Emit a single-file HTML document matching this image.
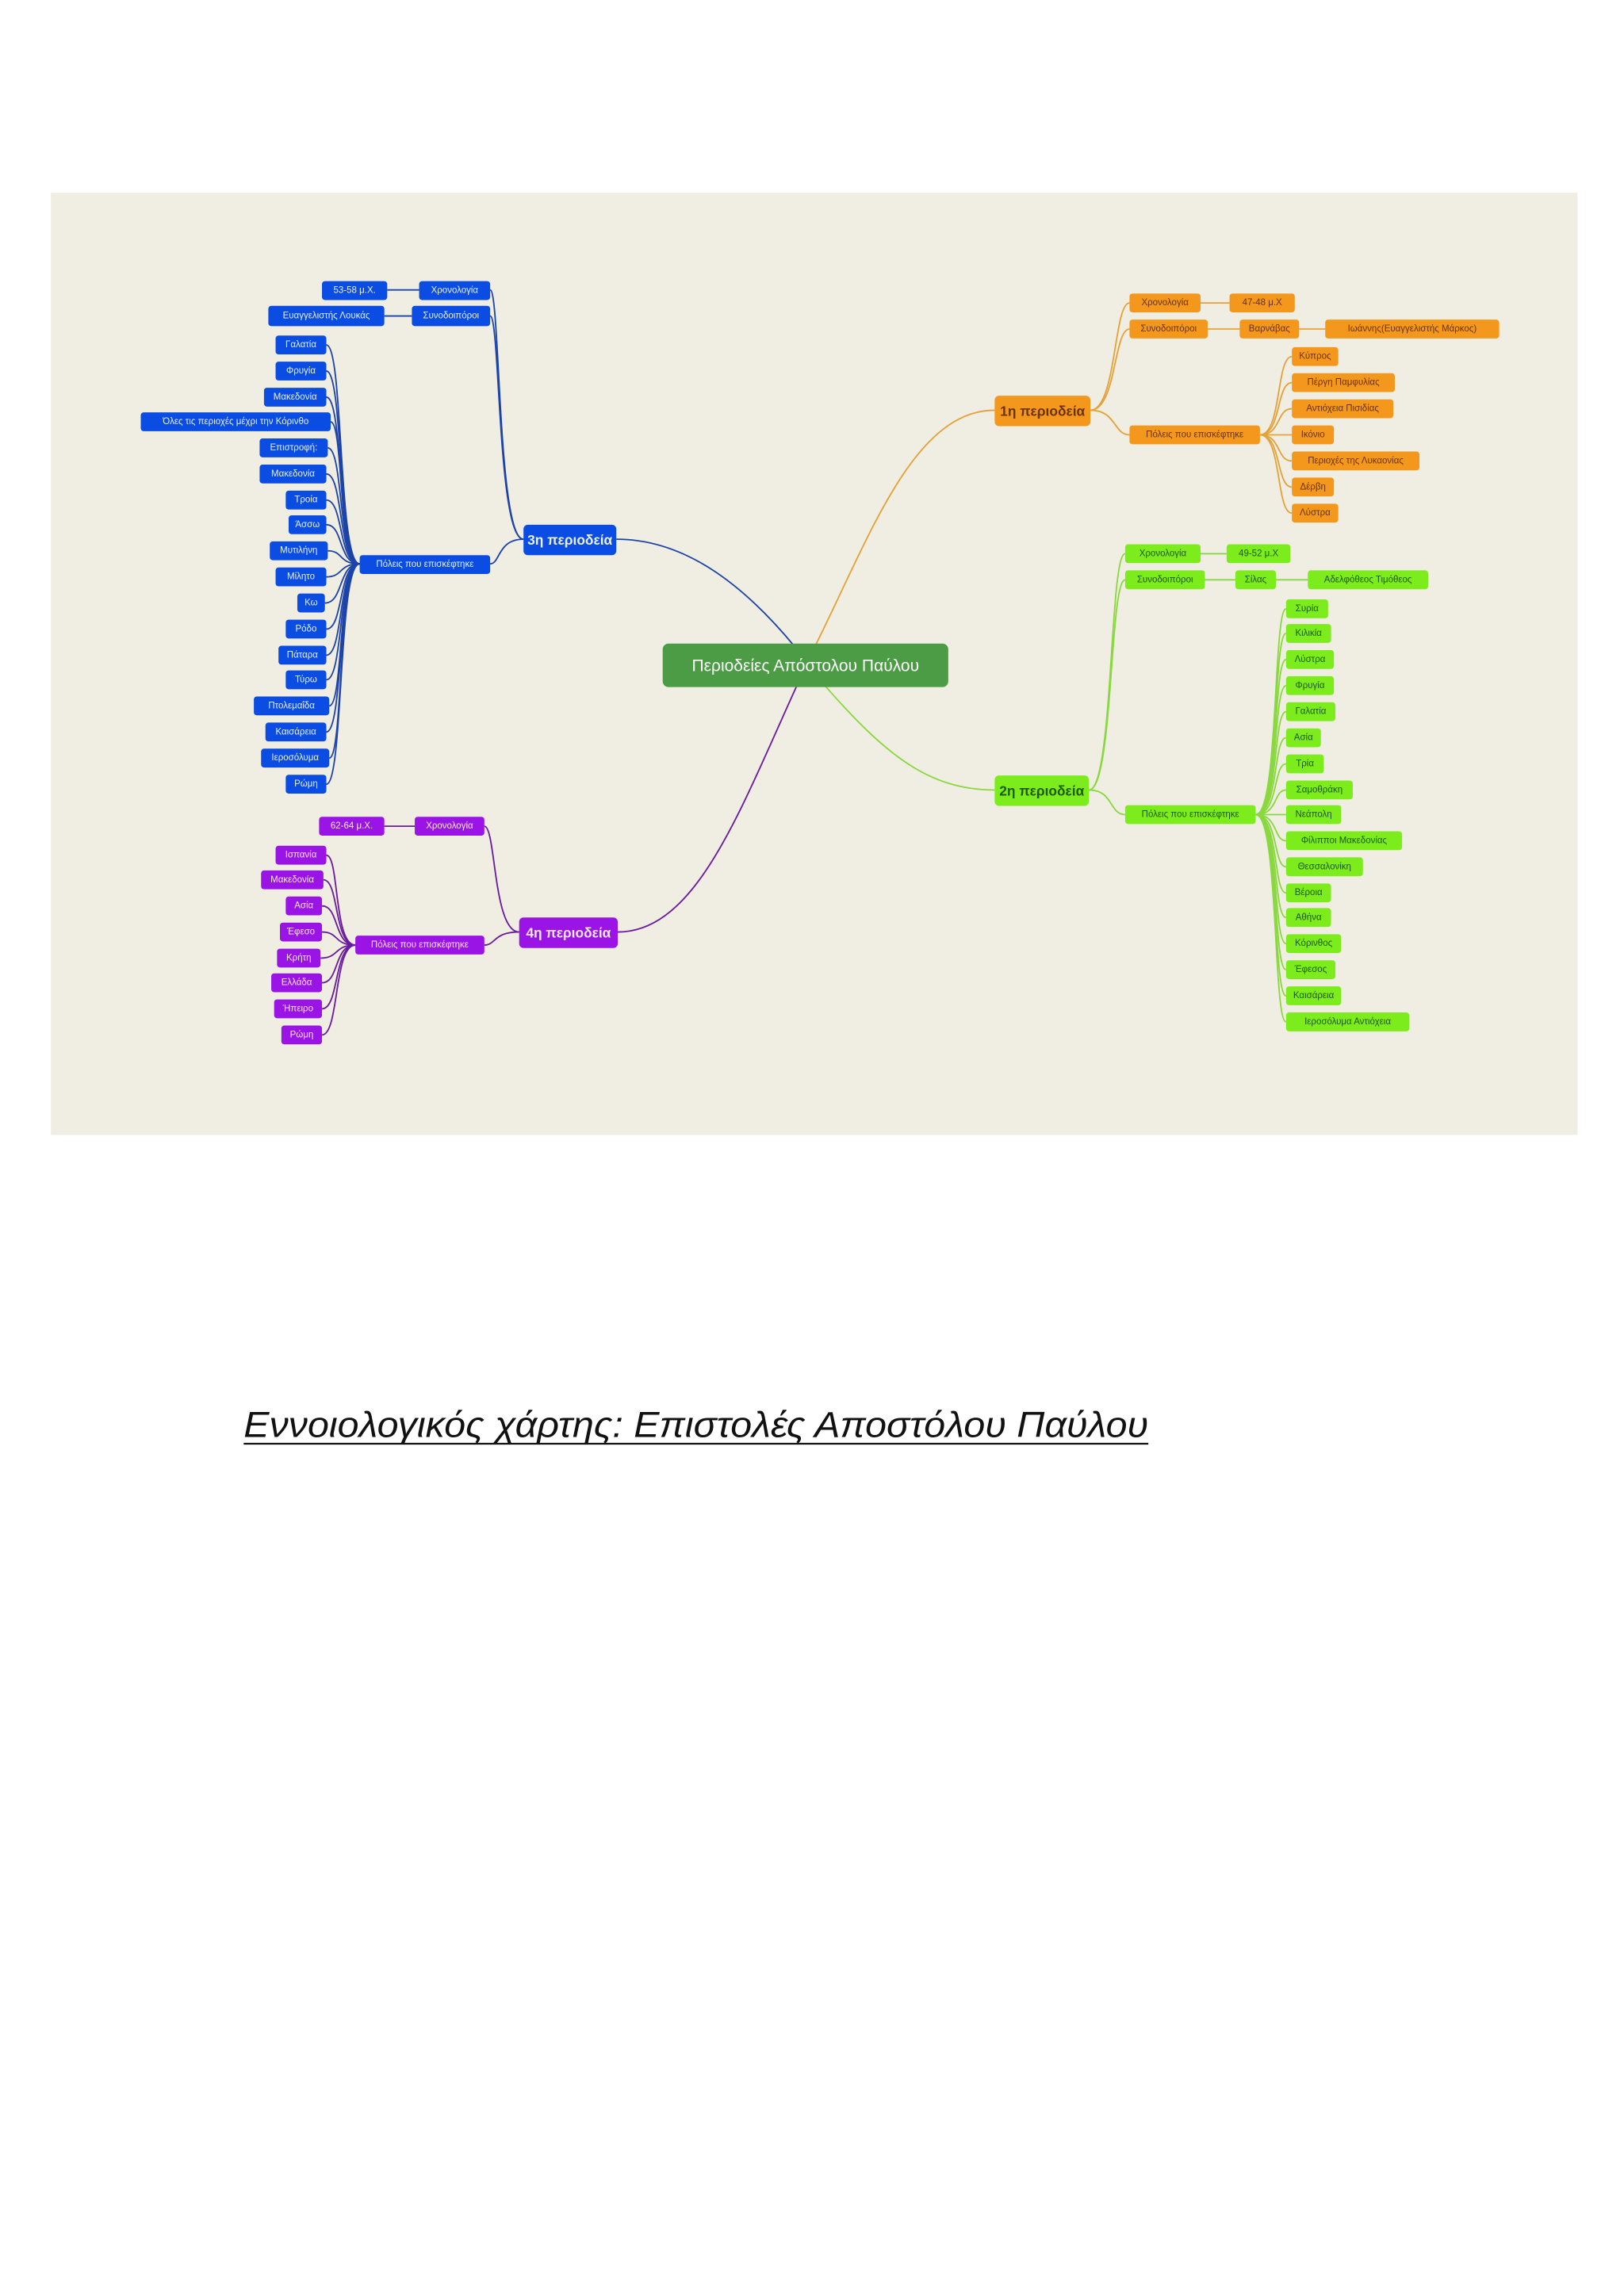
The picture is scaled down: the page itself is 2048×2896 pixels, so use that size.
<!DOCTYPE html>
<html><head><meta charset="utf-8"><style>
html,body{margin:0;padding:0;background:#fff;}
svg{display:block;}
text{font-family:"Liberation Sans","DejaVu Sans",sans-serif;dominant-baseline:central;}
.b rect{fill:#0b4de2;} .b text{fill:#e8f0ff;font-size:6.3px;}
.o rect{fill:#f4981d;} .o text{fill:#6a3200;font-size:6.3px;}
.g rect{fill:#7cec1c;} .g text{fill:#1d5a00;font-size:6.3px;}
.p rect{fill:#9a14e6;} .p text{fill:#fbe6ff;font-size:6.3px;}
.big text{font-size:9.5px;font-weight:bold;}
.lb{stroke:#1c43a8;fill:none;stroke-width:1;}
.lo{stroke:#e4a23a;fill:none;stroke-width:1;}
.lg{stroke:#8ad840;fill:none;stroke-width:1;}
.lp{stroke:#6b1c9e;fill:none;stroke-width:1;}
</style></head><body>
<svg width="2048" height="2896" viewBox="0 0 1120 1584" xmlns="http://www.w3.org/2000/svg">
<rect x="0" y="0" width="1120" height="1584" fill="#fff"/>
<rect x="35" y="133" width="1053" height="650" fill="#f0eee2"/>

<!-- main connectors -->
<path class="lb" stroke-width="1.6" d="M548,446 C510,400 470,372 425,372"/>
<path class="lo" stroke-width="1.6" d="M562,446 C600,370 630,283 686,283"/>
<path class="lg" stroke-width="1.6" d="M568,472 C610,520 640,545 686,545"/>
<path class="lp" stroke-width="1.6" d="M550,472 C510,560 480,643 426,643"/>

<!-- BLUE connectors -->
<path class="lb" d="M361,372 C343,372 345,200 338,200"/>
<path class="lb" d="M361,372 C343,372 345,218 338,218"/>
<path class="lb" d="M361,372 C343,372 345,389 338,389"/>
<path class="lb" d="M267,200 L289,200 M265,218 L284,218"/>
<g class="lb">
<path d="M248,389 C233,389 237,238 225,238"/><path d="M248,389 C233,389 237,256 225,256"/>
<path d="M248,389 C233,389 237,274 225,274"/><path d="M248,389 C233,389 237,291 228,291"/>
<path d="M248,389 C233,389 237,309 226,309"/><path d="M248,389 C233,389 237,327 225,327"/>
<path d="M248,389 C233,389 237,345 225,345"/><path d="M248,389 C233,389 237,362 225,362"/>
<path d="M248,389 C233,389 237,380 226,380"/><path d="M248,389 C233,389 237,398 225,398"/>
<path d="M248,389 C233,389 237,416 224,416"/><path d="M248,389 C233,389 237,434 225,434"/>
<path d="M248,389 C233,389 237,452 225,452"/><path d="M248,389 C233,389 237,469 225,469"/>
<path d="M248,389 C233,389 237,487 227,487"/><path d="M248,389 C233,389 237,505 225,505"/>
<path d="M248,389 C233,389 237,523 227,523"/><path d="M248,389 C233,389 237,541 225,541"/>
</g>

<!-- ORANGE connectors -->
<path class="lo" d="M752,283 C770,283 768,209 779,209"/>
<path class="lo" d="M752,283 C770,283 768,227 779,227"/>
<path class="lo" d="M752,283 C770,283 768,300 779,300"/>
<path class="lo" d="M828,209 L848,209 M833,227 L855,227 M896,227 L914,227"/>
<g class="lo">
<path d="M869,300 C884,300 880,246 891,246"/><path d="M869,300 C884,300 880,264 891,264"/>
<path d="M869,300 C884,300 880,282 891,282"/><path d="M869,300 L891,300"/>
<path d="M869,300 C884,300 880,318 891,318"/><path d="M869,300 C884,300 880,336 891,336"/>
<path d="M869,300 C884,300 880,354 891,354"/>
</g>

<!-- GREEN connectors -->
<path class="lg" d="M751,545 C768,545 765,382 776,382"/>
<path class="lg" d="M751,545 C768,545 765,400 776,400"/>
<path class="lg" d="M751,545 C768,545 765,562 776,562"/>
<path class="lg" d="M828,382 L846,382 M831,400 L852,400 M880,400 L902,400"/>
<g class="lg">
<path d="M866,562 C882,562 878,420 887,420"/><path d="M866,562 C882,562 878,437 887,437"/>
<path d="M866,562 C882,562 878,455 887,455"/><path d="M866,562 C882,562 878,473 887,473"/>
<path d="M866,562 C882,562 878,491 887,491"/><path d="M866,562 C882,562 878,509 887,509"/>
<path d="M866,562 C882,562 878,527 887,527"/><path d="M866,562 C882,562 878,545 887,545"/>
<path d="M866,562 L887,562"/><path d="M866,562 C882,562 878,580 887,580"/>
<path d="M866,562 C882,562 878,598 887,598"/><path d="M866,562 C882,562 878,616 887,616"/>
<path d="M866,562 C882,562 878,633 887,633"/><path d="M866,562 C882,562 878,651 887,651"/>
<path d="M866,562 C882,562 878,669 887,669"/><path d="M866,562 C882,562 878,687 887,687"/>
<path d="M866,562 C882,562 878,705 887,705"/>
</g>

<!-- PURPLE connectors -->
<path class="lp" d="M358,643 C340,643 342,570 334,570"/>
<path class="lp" d="M358,643 C340,643 342,652 334,652"/>
<path class="lp" d="M265,570 L286,570"/>
<g class="lp">
<path d="M245,652 C230,652 234,590 225,590"/><path d="M245,652 C230,652 234,607 223,607"/>
<path d="M245,652 C230,652 234,625 222,625"/><path d="M245,652 C230,652 234,643 222,643"/>
<path d="M245,652 C230,652 234,661 221,661"/><path d="M245,652 C230,652 234,678 222,678"/>
<path d="M245,652 C230,652 234,696 222,696"/><path d="M245,652 C230,652 234,714 222,714"/>
</g>

<!-- center -->
<rect x="457" y="444" width="197" height="30" rx="4" fill="#4c9c46"/>
<text x="555.5" y="459.5" text-anchor="middle" fill="#fff" font-size="11.5">Περιοδείες Απόστολου Παύλου</text>

<!-- BLUE nodes -->
<g class="b">
<g class="big"><rect x="361" y="362" width="64" height="21" rx="3"/><text x="393" y="372.5" text-anchor="middle">3η περιοδεία</text></g>
<rect x="222" y="194" width="45" height="13" rx="2"/><text x="244.5" y="200.5" text-anchor="middle">53-58 μ.Χ.</text>
<rect x="289" y="194" width="49" height="13" rx="2"/><text x="313.5" y="200.5" text-anchor="middle">Χρονολογία</text>
<rect x="185" y="211" width="80" height="14" rx="2"/><text x="225" y="218" text-anchor="middle">Ευαγγελιστής Λουκάς</text>
<rect x="284" y="211" width="54" height="14" rx="2"/><text x="311" y="218" text-anchor="middle">Συνοδοιπόροι</text>
<rect x="248" y="383" width="90" height="13" rx="2"/><text x="293" y="389.5" text-anchor="middle">Πόλεις που επισκέφτηκε</text>
<rect x="190" y="231.5" width="35" height="13" rx="2"/><text x="207.5" y="238" text-anchor="middle">Γαλατία</text>
<rect x="190" y="249.5" width="35" height="13" rx="2"/><text x="207.5" y="256" text-anchor="middle">Φρυγία</text>
<rect x="182" y="267.5" width="43" height="13" rx="2"/><text x="203.5" y="274" text-anchor="middle">Μακεδονία</text>
<rect x="97" y="284.5" width="131" height="13" rx="2"/><text x="162.5" y="291" text-anchor="middle">Όλες τις περιοχές μέχρι την Κόρινθο</text>
<rect x="179" y="302.5" width="47" height="13" rx="2"/><text x="202.5" y="309" text-anchor="middle">Επιστροφή:</text>
<rect x="179" y="320.5" width="46" height="13" rx="2"/><text x="202" y="327" text-anchor="middle">Μακεδονία</text>
<rect x="197" y="338.5" width="28" height="13" rx="2"/><text x="211" y="345" text-anchor="middle">Τροία</text>
<rect x="199" y="355.5" width="26" height="13" rx="2"/><text x="212" y="362" text-anchor="middle">Άσσω</text>
<rect x="186" y="373.5" width="40" height="13" rx="2"/><text x="206" y="380" text-anchor="middle">Μυτιλήνη</text>
<rect x="190" y="391.5" width="35" height="13" rx="2"/><text x="207.5" y="398" text-anchor="middle">Μίλητο</text>
<rect x="205" y="409.5" width="19" height="13" rx="2"/><text x="214.5" y="416" text-anchor="middle">Κω</text>
<rect x="197" y="427.5" width="28" height="13" rx="2"/><text x="211" y="434" text-anchor="middle">Ρόδο</text>
<rect x="192" y="445.5" width="33" height="13" rx="2"/><text x="208.5" y="452" text-anchor="middle">Πάταρα</text>
<rect x="197" y="462.5" width="28" height="13" rx="2"/><text x="211" y="469" text-anchor="middle">Τύρω</text>
<rect x="175" y="480.5" width="52" height="13" rx="2"/><text x="201" y="487" text-anchor="middle">Πτολεμαΐδα</text>
<rect x="183" y="498.5" width="42" height="13" rx="2"/><text x="204" y="505" text-anchor="middle">Καισάρεια</text>
<rect x="180" y="516.5" width="47" height="13" rx="2"/><text x="203.5" y="523" text-anchor="middle">Ιεροσόλυμα</text>
<rect x="197" y="534.5" width="28" height="13" rx="2"/><text x="211" y="541" text-anchor="middle">Ρώμη</text>
</g>

<!-- ORANGE nodes -->
<g class="o">
<g class="big"><rect x="686" y="273" width="66" height="21" rx="3"/><text x="719" y="283.5" text-anchor="middle">1η περιοδεία</text></g>
<rect x="779" y="202.5" width="49" height="13" rx="2"/><text x="803.5" y="209" text-anchor="middle">Χρονολογία</text>
<rect x="848" y="202.5" width="45" height="13" rx="2"/><text x="870.5" y="209" text-anchor="middle">47-48 μ.Χ</text>
<rect x="779" y="220.5" width="54" height="13" rx="2"/><text x="806" y="227" text-anchor="middle">Συνοδοιπόροι</text>
<rect x="855" y="220.5" width="41" height="13" rx="2"/><text x="875.5" y="227" text-anchor="middle">Βαρνάβας</text>
<rect x="914" y="220.5" width="120" height="13" rx="2"/><text x="974" y="227" text-anchor="middle">Ιωάννης(Ευαγγελιστής Μάρκος)</text>
<rect x="779" y="293.5" width="90" height="13" rx="2"/><text x="824" y="300" text-anchor="middle">Πόλεις που επισκέφτηκε</text>
<rect x="891" y="239.5" width="32" height="13" rx="2"/><text x="907" y="246" text-anchor="middle">Κύπρος</text>
<rect x="891" y="257.5" width="71" height="13" rx="2"/><text x="926.5" y="264" text-anchor="middle">Πέργη Παμφυλίας</text>
<rect x="891" y="275.5" width="70" height="13" rx="2"/><text x="926" y="282" text-anchor="middle">Αντιόχεια Πισιδίας</text>
<rect x="891" y="293.5" width="29" height="13" rx="2"/><text x="905.5" y="300" text-anchor="middle">Ικόνιο</text>
<rect x="891" y="311.5" width="88" height="13" rx="2"/><text x="935" y="318" text-anchor="middle">Περιοχές της Λυκαονίας</text>
<rect x="891" y="329.5" width="29" height="13" rx="2"/><text x="905.5" y="336" text-anchor="middle">Δέρβη</text>
<rect x="891" y="347.5" width="32" height="13" rx="2"/><text x="907" y="354" text-anchor="middle">Λύστρα</text>
</g>

<!-- GREEN nodes -->
<g class="g">
<g class="big"><rect x="686" y="535" width="65" height="21" rx="3"/><text x="718.5" y="545.5" text-anchor="middle">2η περιοδεία</text></g>
<rect x="776" y="375.5" width="52" height="13" rx="2"/><text x="802" y="382" text-anchor="middle">Χρονολογία</text>
<rect x="846" y="375.5" width="44" height="13" rx="2"/><text x="868" y="382" text-anchor="middle">49-52 μ.Χ</text>
<rect x="776" y="393.5" width="55" height="13" rx="2"/><text x="803.5" y="400" text-anchor="middle">Συνοδοιπόροι</text>
<rect x="852" y="393.5" width="28" height="13" rx="2"/><text x="866" y="400" text-anchor="middle">Σίλας</text>
<rect x="902" y="393.5" width="83" height="13" rx="2"/><text x="943.5" y="400" text-anchor="middle">Αδελφόθεος Τιμόθεος</text>
<rect x="776" y="555.5" width="90" height="13" rx="2"/><text x="821" y="562" text-anchor="middle">Πόλεις που επισκέφτηκε</text>
<rect x="887" y="413.5" width="29" height="13" rx="2"/><text x="901.5" y="420" text-anchor="middle">Συρία</text>
<rect x="887" y="430.5" width="31" height="13" rx="2"/><text x="902.5" y="437" text-anchor="middle">Κιλικία</text>
<rect x="887" y="448.5" width="33" height="13" rx="2"/><text x="903.5" y="455" text-anchor="middle">Λύστρα</text>
<rect x="887" y="466.5" width="33" height="13" rx="2"/><text x="903.5" y="473" text-anchor="middle">Φρυγία</text>
<rect x="887" y="484.5" width="34" height="13" rx="2"/><text x="904" y="491" text-anchor="middle">Γαλατία</text>
<rect x="887" y="502.5" width="24" height="13" rx="2"/><text x="899" y="509" text-anchor="middle">Ασία</text>
<rect x="887" y="520.5" width="26" height="13" rx="2"/><text x="900" y="527" text-anchor="middle">Τρία</text>
<rect x="887" y="538.5" width="46" height="13" rx="2"/><text x="910" y="545" text-anchor="middle">Σαμοθράκη</text>
<rect x="887" y="555.5" width="38" height="13" rx="2"/><text x="906" y="562" text-anchor="middle">Νεάπολη</text>
<rect x="887" y="573.5" width="80" height="13" rx="2"/><text x="927" y="580" text-anchor="middle">Φίλιπποι Μακεδονίας</text>
<rect x="887" y="591.5" width="53" height="13" rx="2"/><text x="913.5" y="598" text-anchor="middle">Θεσσαλονίκη</text>
<rect x="887" y="609.5" width="31" height="13" rx="2"/><text x="902.5" y="616" text-anchor="middle">Βέροια</text>
<rect x="887" y="626.5" width="31" height="13" rx="2"/><text x="902.5" y="633" text-anchor="middle">Αθήνα</text>
<rect x="887" y="644.5" width="38" height="13" rx="2"/><text x="906" y="651" text-anchor="middle">Κόρινθος</text>
<rect x="887" y="662.5" width="34" height="13" rx="2"/><text x="904" y="669" text-anchor="middle">Έφεσος</text>
<rect x="887" y="680.5" width="38" height="13" rx="2"/><text x="906" y="687" text-anchor="middle">Καισάρεια</text>
<rect x="887" y="698.5" width="85" height="13" rx="2"/><text x="929.5" y="705" text-anchor="middle">Ιεροσόλυμα Αντιόχεια</text>
</g>

<!-- PURPLE nodes -->
<g class="p">
<g class="big"><rect x="358" y="633" width="68" height="21" rx="3"/><text x="392" y="643.5" text-anchor="middle" font-weight="normal">4η περιοδεία</text></g>
<rect x="220" y="563.5" width="45" height="13" rx="2"/><text x="242.5" y="570" text-anchor="middle">62-64 μ.Χ.</text>
<rect x="286" y="563.5" width="48" height="13" rx="2"/><text x="310" y="570" text-anchor="middle">Χρονολογία</text>
<rect x="245" y="645.5" width="89" height="13" rx="2"/><text x="289.5" y="652" text-anchor="middle">Πόλεις που επισκέφτηκε</text>
<rect x="190" y="583.5" width="35" height="13" rx="2"/><text x="207.5" y="590" text-anchor="middle">Ισπανία</text>
<rect x="180" y="600.5" width="43" height="13" rx="2"/><text x="201.5" y="607" text-anchor="middle">Μακεδονία</text>
<rect x="197" y="618.5" width="25" height="13" rx="2"/><text x="209.5" y="625" text-anchor="middle">Ασία</text>
<rect x="193" y="636.5" width="29" height="13" rx="2"/><text x="207.5" y="643" text-anchor="middle">Έφεσο</text>
<rect x="191" y="654.5" width="30" height="13" rx="2"/><text x="206" y="661" text-anchor="middle">Κρήτη</text>
<rect x="187" y="671.5" width="35" height="13" rx="2"/><text x="204.5" y="678" text-anchor="middle">Ελλάδα</text>
<rect x="189" y="689.5" width="33" height="13" rx="2"/><text x="205.5" y="696" text-anchor="middle">Ήπειρο</text>
<rect x="194" y="707.5" width="28" height="13" rx="2"/><text x="208" y="714" text-anchor="middle">Ρώμη</text>
</g>

<!-- title -->
<text x="168" y="983" font-size="25" font-style="italic" fill="#111" textLength="624" lengthAdjust="spacingAndGlyphs">Εννοιολογικός χάρτης: Επιστολές Αποστόλου Παύλου</text>
<line x1="168" y1="996" x2="792" y2="996" stroke="#111" stroke-width="1.2"/>
</svg>
</body></html>
